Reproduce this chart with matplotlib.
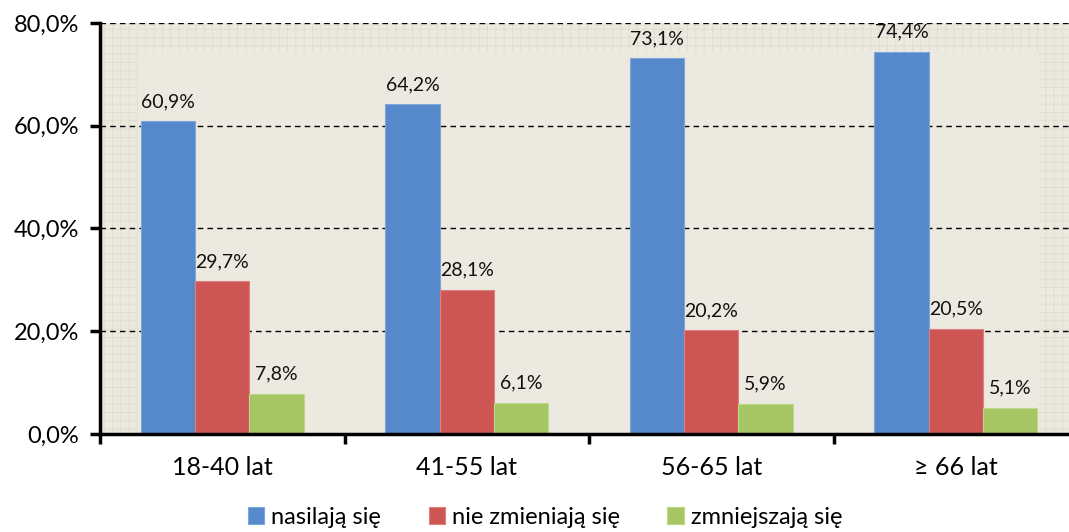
import matplotlib
matplotlib.use("Agg")
import matplotlib.pyplot as plt
import numpy as np
from matplotlib.patches import Rectangle

plt.rcParams['font.family'] = ['Lato', 'DejaVu Sans']
plt.rcParams['hatch.linewidth'] = 0.6

categories = ['18-40 lat', '41-55 lat', '56-65 lat', '≥ 66 lat']
series_names = ['nasilają się', 'nie zmieniają się', 'zmniejszają się']
nasilaja = [60.9, 64.2, 73.1, 74.4]
nie_zmieniaja = [29.7, 28.1, 20.2, 20.5]
zmniejszaja = [7.8, 6.1, 5.9, 5.1]
y_ticks = [0, 20, 40, 60, 80]

colors = ['#5689CB', '#CD5654', '#A6C664']
edges = ['#7FA6DA', '#DC7F7D', '#BDD88A']

def pl_pct(v):
    return f"{v:.1f}%".replace('.', ',')

W, H = 1069, 532
fig = plt.figure(figsize=(W / 100, H / 100), dpi=100)
# plot area runs past the right edge of the figure
left_px, right_px, top_px, bottom_px = 100, 1078, 23, 434
ax = fig.add_axes([left_px / W, 1 - bottom_px / H,
                   (right_px - left_px) / W, (bottom_px - top_px) / H])
ax.set_xlim(-0.5, 3.5)
ax.set_ylim(0, 80)

# textured frame around a plain inner plot area
ax.patch.set_facecolor('#ECEAE0')
ax.patch.set_hatch('++')
ax.patch.set_edgecolor('#E0DCCD')
ax.patch.set_linewidth(0)
aw = right_px - left_px
x0 = (138 - left_px) / aw
x1 = (1038 - left_px) / aw
y1 = (bottom_px - 52) / (bottom_px - top_px)
ax.add_patch(Rectangle((x0, 0), x1 - x0, y1, transform=ax.transAxes,
                       facecolor='#ECEAE0', edgecolor='none', zorder=0.5))

# dashed gridlines
for t in y_ticks[1:]:
    ax.axhline(t, color='black', linestyle=(0, (4, 3)), linewidth=1.0, zorder=1)

x = np.arange(len(categories))
w = 2 / 9
series = [nasilaja, nie_zmieniaja, zmniejszaja]
for i, (vals, name) in enumerate(zip(series, series_names)):
    pos = x + (i - 1) * w
    bars = ax.bar(pos, vals, width=w, color=colors[i], edgecolor=edges[i],
                  linewidth=0.8, label=name, zorder=2)
    for b, v in zip(bars, vals):
        ax.annotate(pl_pct(v), (b.get_x() + b.get_width() / 2, v),
                    xytext=(0, 8), textcoords='offset points',
                    ha='center', va='bottom', fontsize=14, color='#111111',
                    zorder=3)

for s in ['top', 'right']:
    ax.spines[s].set_visible(False)
for s in ['left', 'bottom']:
    ax.spines[s].set_linewidth(2.5)
    ax.spines[s].set_zorder(4)

ax.set_yticks(y_ticks)
ax.set_yticklabels([pl_pct(t) for t in y_ticks], fontsize=17)
ax.tick_params(axis='y', direction='out', length=7, width=2.5, pad=8)

ax.set_xticks(x)
ax.set_xticklabels(categories, fontsize=18)
ax.set_xticks(np.arange(-0.5, 4.0, 1.0), minor=True)
ax.tick_params(axis='x', which='major', length=0, pad=16)
ax.tick_params(axis='x', which='minor', direction='out', length=7, width=2.5)

leg = fig.legend(loc='lower center', bbox_to_anchor=(0.51, -0.032), ncol=3,
                 frameon=False, fontsize=17, handlelength=0.7, handleheight=0.7,
                 handletextpad=0.3, columnspacing=2.0)

fig.savefig('out.png', dpi=100)
